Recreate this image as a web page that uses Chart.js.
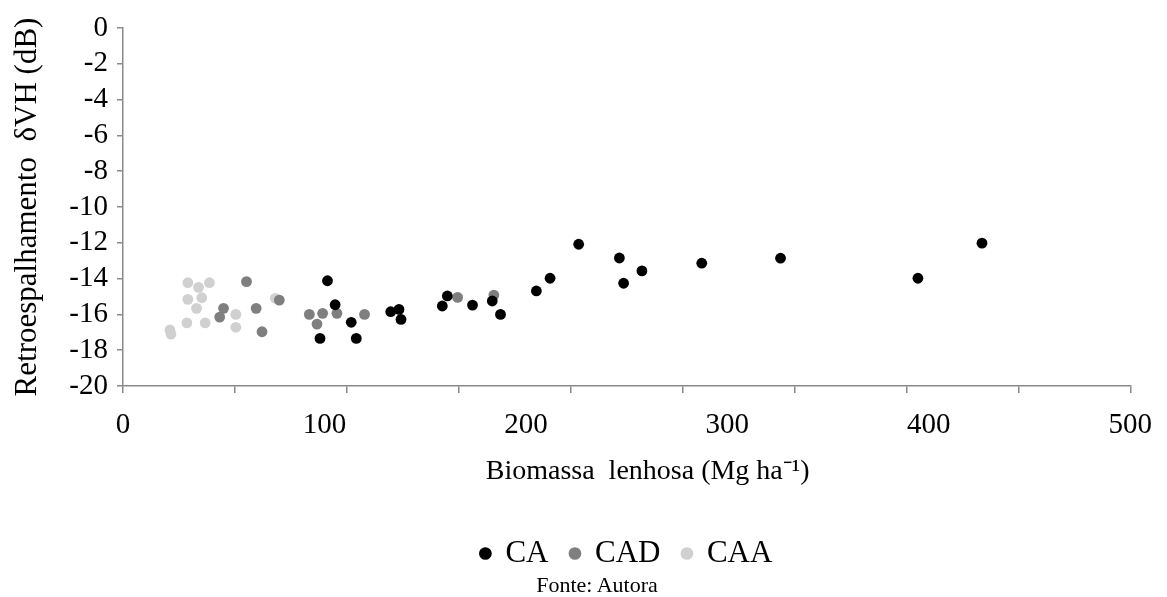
<!DOCTYPE html>
<html>
<head>
<meta charset="utf-8">
<script src="https://cdn.jsdelivr.net/npm/chart.js@4.4.1/dist/chart.umd.min.js"></script>
<style>
html,body{margin:0;padding:0;background:#fff;}
#wrap{width:1167px;height:597px;position:relative;}
#fonte{position:absolute;left:497px;width:200px;top:571px;text-align:center;font-family:'Liberation Serif','Times New Roman',serif;font-size:22px;line-height:28px;color:#000;}
</style>
</head>
<body>
<div id="wrap"><canvas id="c" width="1167" height="597"></canvas><div id="fonte">Fonte: Autora</div></div>
<script>
// Data
const caX  = [97.8, 101.5, 105.3, 113.3, 115.8, 132.9, 137.0, 138.0, 158.5, 161.0, 173.5, 183.3, 187.4, 205.2, 212.0, 226.2, 246.4, 248.5, 257.6, 287.3, 326.4, 394.6, 426.4];
const caY  = [-17.34, -14.12, -15.46, -16.44, -17.34, -15.85, -15.72, -16.28, -15.53, -14.97, -15.48, -15.25, -16.0, -14.69, -13.98, -12.08, -12.85, -14.26, -13.57, -13.14, -12.86, -13.98, -12.02];
const cadX = [48.0, 49.9, 61.3, 66.1, 69.0, 77.6, 92.5, 96.3, 99.1, 106.2, 119.9, 166.1, 184.1];
const cadY = [-16.15, -15.66, -14.17, -15.66, -16.97, -15.2, -16.0, -16.54, -15.94, -15.94, -16.0, -15.05, -14.92];
const caaX = [23.3, 23.8, 31.7, 32.2, 32.2, 36.5, 37.5, 39.1, 40.8, 42.9, 56.0, 56.0, 75.6];
const caaY = [-16.87, -17.1, -16.47, -14.23, -15.16, -15.66, -14.49, -15.07, -16.47, -14.23, -16.0, -16.72, -15.1];
const seriesNames = ['CA', 'CAD', 'CAA'];
const xLabelValues = [0, 100, 200, 300, 400, 500];
const xTickMarkCount = 9; // tick marks divide the axis in 9 parts
const yMin = -20, yMax = 0, yStep = 2;

const toPts = (xs, ys) => xs.map((x, i) => ({x: x, y: ys[i]}));
const axisColor = '#8a8a8a';
const serif = "'Liberation Serif', 'Times New Roman', serif";

const markValues = [];
for (let i = 0; i <= xTickMarkCount; i++) markValues.push(500 * i / xTickMarkCount);
const isMark = v => markValues.some(m => Math.abs(m - v) < 1e-6);
const isLabel = v => xLabelValues.some(m => Math.abs(m - v) < 1e-6);

new Chart(document.getElementById('c'), {
  type: 'scatter',
  data: {
    datasets: [
      {label: seriesNames[0], data: toPts(caX, caY), backgroundColor: '#000000', borderColor: '#000000', pointRadius: 5.4, pointBorderWidth: 0},
      {label: seriesNames[1], data: toPts(cadX, cadY), backgroundColor: '#7f7f7f', borderColor: '#7f7f7f', pointRadius: 5.4, pointBorderWidth: 0},
      {label: seriesNames[2], data: toPts(caaX, caaY), backgroundColor: '#d0d0d0', borderColor: '#d0d0d0', pointRadius: 5.4, pointBorderWidth: 0}
    ]
  },
  options: {
    responsive: false,
    animation: false,
    layout: {padding: {top: 28, right: 34, left: 0, bottom: 18}},
    scales: {
      x: {
        type: 'linear', min: 0, max: 500,
        afterBuildTicks: (scale) => {
          const vals = Array.from(new Set(markValues.concat(xLabelValues).map(v => Math.round(v * 1e6) / 1e6))).sort((a, b) => a - b);
          scale.ticks = vals.map(v => ({value: v}));
        },
        afterFit: (scale) => { scale.height = 130; },
        border: {display: true, color: axisColor, width: 1.5},
        grid: {
          drawOnChartArea: false, drawTicks: true, tickLength: 7, lineWidth: 1.5,
          color: (ctx) => (ctx.tick && isMark(ctx.tick.value)) ? axisColor : 'rgba(0,0,0,0)'
        },
        ticks: {
          autoSkip: false, maxRotation: 0, padding: 15, color: '#000',
          font: {family: serif, size: 29},
          callback: (v) => isLabel(v) ? String(Math.round(v)) : ''
        },
        title: {display: true, text: '      Biomassa  lenhosa (Mg ha\u207B\u00B9)', color: '#000', font: {family: serif, size: 28}, padding: {top: 0, bottom: 28}}
      },
      y: {
        min: yMin, max: yMax,
        afterFit: (scale) => { scale.width = 123; },
        border: {display: true, color: axisColor, width: 1.5},
        grid: {drawOnChartArea: false, drawTicks: true, tickLength: 6, lineWidth: 1.5, color: axisColor},
        ticks: {stepSize: yStep, autoSkip: false, padding: 9, color: '#000', font: {family: serif, size: 29}},
        title: {display: true, text: 'Retroespalhamento  \u03B4VH (dB)', color: '#000', font: {family: serif, size: 31}, padding: {top: 9, bottom: 0}}
      }
    },
    plugins: {
      legend: {
        position: 'bottom',
        fullSize: false,
        labels: {usePointStyle: true, pointStyle: 'circle', boxWidth: 9, boxHeight: 9, padding: 22, color: '#000', font: {family: serif, size: 31}}
      },
      tooltip: {enabled: false}
    }
  }
});
</script>
</body>
</html>
